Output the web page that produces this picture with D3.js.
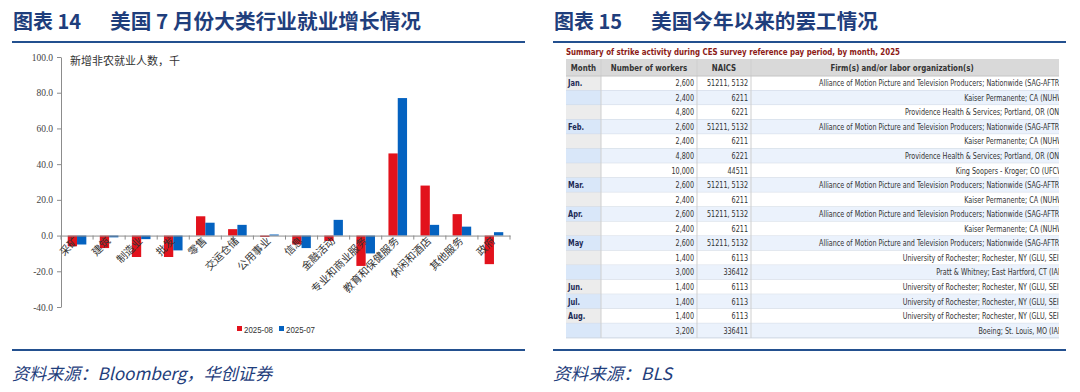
<!DOCTYPE html>
<html>
<head>
<meta charset="utf-8">
<script src="https://cdn.jsdelivr.net/npm/d3@7"></script>
<style>
  body { margin: 0; background: #fff; }
  svg { display: block; }
</style>
</head>
<body>
<div id="my_dataviz"></div>
<script>
// chart data
var categories = ["采矿", "建筑", "制造业", "批发", "零售", "交运仓储", "公用事业", "信息",
                  "金融活动", "专业和商业服务", "教育和保健服务", "休闲和酒店", "其他服务", "政府"];
var aug = [-6, -7, -12, -12, 10.8, 3.6, -0.8, -5, -3, -17, 46, 28, 12, -16];
var jul = [-5, -1, -2, -8.3, 7.2, 6, 0.6, -7, 8.8, -10, 77, 6, 5, 1.9];
var yTicks = [-40, -20, 0, 20, 40, 60, 80, 100];
var seriesNames = ["2025-08", "2025-07"];

// table data
var tableMonths = ["Jan.", "", "", "Feb.", "", "", "", "Mar.", "", "Apr.", "", "May", "", "", "Jun.", "Jul.", "Aug.", ""];
var tableWorkers = ["2,600", "2,400", "4,800", "2,600", "2,400", "4,800", "10,000", "2,600", "2,400",
                    "2,600", "2,400", "2,600", "1,400", "3,000", "1,400", "1,400", "1,400", "3,200"];
var tableNaics = ["51211, 5132", "6211", "6221", "51211, 5132", "6211", "6221", "44511", "51211, 5132", "6211",
                  "51211, 5132", "6211", "51211, 5132", "6113", "336412", "6113", "6113", "6113", "336411"];
var amptp = "Alliance of Motion Picture and Television Producers; Nationwide (SAG-AFTRA)";
var kaiser = "Kaiser Permanente; CA (NUHW)";
var prov = "Providence Health & Services; Portland, OR (ONA)";
var roch = "University of Rochester; Rochester, NY (GLU, SEIU)";
var tableFirms = [amptp, kaiser, prov, amptp, kaiser, prov, "King Soopers - Kroger; CO (UFCW)",
                  amptp, kaiser, amptp, kaiser, amptp, roch, "Pratt & Whitney; East Hartford, CT (IAM)",
                  roch, roch, roch, "Boeing; St. Louis, MO (IAM)"];
var tableHeader = ["Month", "Number of workers", "NAICS", "Firm(s) and/or labor organization(s)"];

var RED = "#e2121c", BLUE = "#0462c0", NAVY = "#1f3e7c";
var CJK = "'Noto Sans CJK SC', sans-serif";

var svg = d3.select("#my_dataviz")
    .append("svg")
    .attr("width", 1080)
    .attr("height", 392);

// squeeze text to a given width
function fitTo(node, target) {
    d3.select(node).attr("textLength", target).attr("lengthAdjust", "spacingAndGlyphs");
}
function squeeze(sel, k) {
    sel.each(function() {
        var w = this.getComputedTextLength();
        d3.select(this).attr("textLength", w * k).attr("lengthAdjust", "spacingAndGlyphs");
    });
}

// ---------- panel titles, rules, sources ----------
function panelFrame(x0, x1, num, title, titleEnd, source, sourceEnd) {
    svg.append("text").attr("x", x0 + 1).attr("y", 29)
        .style("font-family", CJK).style("font-weight", "bold").style("font-size", "20px")
        .attr("fill", NAVY).text("图表 " + num);
    var t = svg.append("text").attr("x", x0 + 98).attr("y", 29)
        .style("font-family", CJK).style("font-weight", "bold").style("font-size", "20px")
        .attr("fill", NAVY).text(title);
    fitTo(t.node(), titleEnd - x0 - 98);
    svg.append("line").attr("x1", x0).attr("x2", x1).attr("y1", 42).attr("y2", 42)
        .attr("stroke", "#23508f").attr("stroke-width", 2);
    svg.append("line").attr("x1", x0).attr("x2", x1).attr("y1", 350).attr("y2", 350)
        .attr("stroke", "#23508f").attr("stroke-width", 2);
    var s = svg.append("text").attr("x", x0).attr("y", 380)
        .style("font-family", CJK).style("font-style", "italic").style("font-size", "17px")
        .attr("fill", NAVY).text(source);
    fitTo(s.node(), sourceEnd - x0);
}
panelFrame(12, 525, "14", "美国 7 月份大类行业就业增长情况", 421, "资料来源：Bloomberg，华创证券", 272);
panelFrame(553, 1066, "15", "美国今年以来的罢工情况", 878, "资料来源：BLS", 672);

// ---------- bar chart ----------
var y = d3.scaleLinear().domain([-40, 100]).range([307, 57]);
var x = d3.scaleBand().domain(categories).range([61, 510]);
var barW = 9.3;

var yAxis = svg.append("g")
    .attr("transform", "translate(61,0)")
    .call(d3.axisLeft(y).tickValues(yTicks).tickSize(4).tickSizeOuter(0)
        .tickFormat(function(d) { return d.toFixed(1); }));
yAxis.select(".domain").attr("stroke", "#8c8c8c");
yAxis.selectAll(".tick line").attr("stroke", "#8c8c8c");
yAxis.selectAll(".tick text")
    .attr("x", -8)
    .style("font-family", "'Liberation Serif', serif").style("font-size", "9.5px").attr("fill", "#444");

svg.append("text").attr("x", 70).attr("y", 65)
    .style("font-family", CJK).style("font-size", "11px").attr("fill", "#333")
    .text("新增非农就业人数，千");

// bars
var bars = svg.append("g");
bars.selectAll(".augBar")
    .data(categories)
    .enter()
    .append("rect")
    .attr("x", function(d) { return x(d) + x.bandwidth() / 2 - barW; })
    .attr("y", function(d, i) { return y(Math.max(0, aug[i])); })
    .attr("width", barW)
    .attr("height", function(d, i) { return Math.abs(y(aug[i]) - y(0)); })
    .attr("fill", RED);
bars.selectAll(".julBar")
    .data(categories)
    .enter()
    .append("rect")
    .attr("x", function(d) { return x(d) + x.bandwidth() / 2; })
    .attr("y", function(d, i) { return y(Math.max(0, jul[i])); })
    .attr("width", barW)
    .attr("height", function(d, i) { return Math.abs(y(jul[i]) - y(0)); })
    .attr("fill", BLUE);

// x axis at zero
var xAxis = svg.append("g")
    .attr("transform", "translate(0," + y(0) + ")")
    .call(d3.axisBottom(x).tickSize(0).tickSizeOuter(0).tickFormat(""));
xAxis.select(".domain").attr("stroke", "#8c8c8c");
xAxis.selectAll(".bound")
    .data(categories.concat(["end"]))
    .enter()
    .append("line")
    .attr("x1", function(d, i) { return 61 + i * x.step(); })
    .attr("x2", function(d, i) { return 61 + i * x.step(); })
    .attr("y1", 0).attr("y2", 4)
    .attr("stroke", "#8c8c8c");

svg.append("g").selectAll("text")
    .data(categories)
    .enter()
    .append("text")
    .attr("transform", function(d) {
        return "translate(" + (x(d) + x.bandwidth() / 2 + 2) + "," + (y(0) + 6) + ")rotate(-45)";
    })
    .style("text-anchor", "end")
    .style("font-family", CJK).style("font-size", "10.5px").attr("fill", "#333")
    .text(function(d) { return d; });

// legend
var legend = svg.append("g").selectAll("g")
    .data(seriesNames)
    .enter()
    .append("g")
    .attr("transform", function(d, i) { return "translate(" + (237 + i * 42) + ",329)"; });
legend.append("rect").attr("x", 0).attr("y", -3).attr("width", 5).attr("height", 5)
    .attr("fill", function(d, i) { return i == 0 ? RED : BLUE; });
legend.append("text").attr("x", 7).attr("y", 3.5)
    .style("font-family", "'Liberation Sans', Arial, sans-serif").style("font-size", "9.5px").attr("fill", "#333")
    .text(function(d) { return d; })
    .each(function() { fitTo(this, 29); });

// ---------- strike table ----------
var cols = [566, 601, 697, 751, 1059];
var headTop = 59, headH = 17, rowH = 14.55;
var TFONT = "'DejaVu Sans', Verdana, sans-serif";
var tbl = svg.append("g");

var ttl = tbl.append("text").attr("x", 566).attr("y", 55)
    .style("font-family", TFONT).style("font-weight", "bold").style("font-size", "9px")
    .attr("fill", "#8c1a16")
    .text("Summary of strike activity during CES survey reference pay period, by month, 2025");
var kBold = 334 / ttl.node().getComputedTextLength();
fitTo(ttl.node(), 334);

tbl.append("rect").attr("x", cols[0]).attr("y", headTop).attr("width", cols[4] - cols[0]).attr("height", headH)
    .attr("fill", "#d9d9d9");
var headText = tbl.selectAll(".head")
    .data(tableHeader)
    .enter()
    .append("text")
    .attr("x", function(d, i) { return (cols[i] + cols[i + 1]) / 2 + (i == 3 ? -3 : 0); })
    .attr("y", headTop + 11.5)
    .style("text-anchor", "middle")
    .style("font-family", TFONT).style("font-weight", "bold").style("font-size", "9px")
    .attr("fill", "#333")
    .text(function(d) { return d; });
squeeze(headText, kBold);

var rows = tbl.selectAll(".row")
    .data(tableWorkers)
    .enter()
    .append("g")
    .attr("transform", function(d, i) { return "translate(0," + (headTop + headH + i * rowH) + ")"; });
rows.append("rect").attr("x", cols[0]).attr("width", cols[1] - cols[0]).attr("height", rowH)
    .attr("fill", function(d, i) { return i % 2 == 0 ? "#ececec" : "#d9e7f9"; });
rows.append("rect").attr("x", cols[1]).attr("width", cols[4] - cols[1]).attr("height", rowH)
    .attr("fill", function(d, i) { return i % 2 == 0 ? "#ffffff" : "#ebf2fc"; });
rows.append("line").attr("x1", cols[0]).attr("x2", cols[4]).attr("y1", rowH).attr("y2", rowH)
    .attr("stroke", "#cdd6e2").attr("stroke-width", 1);

var monthText = rows.append("text").attr("x", 568).attr("y", 10.3)
    .style("font-family", TFONT).style("font-weight", "bold").style("font-size", "8.5px")
    .attr("fill", "#1c2a55")
    .text(function(d, i) { return tableMonths[i]; });
squeeze(monthText, kBold);

var wText = rows.append("text").attr("x", 694).attr("y", 10.3)
    .style("text-anchor", "end")
    .style("font-family", TFONT).style("font-size", "8.5px").attr("fill", "#333")
    .text(function(d) { return d; });
var nText = rows.append("text").attr("x", 748).attr("y", 10.3)
    .style("text-anchor", "end")
    .style("font-family", TFONT).style("font-size", "8.5px").attr("fill", "#333")
    .text(function(d, i) { return tableNaics[i]; });

// the source table image is cut at its right edge, so the firm column is clipped
svg.append("clipPath").attr("id", "firmClip")
    .append("rect").attr("x", cols[3]).attr("y", 0).attr("width", cols[4] - cols[3]).attr("height", 392);
var fText = rows.append("text").attr("x", 1066).attr("y", 10.3)
    .attr("clip-path", "url(#firmClip)")
    .style("text-anchor", "end")
    .style("font-family", TFONT).style("font-size", "8.5px").attr("fill", "#333")
    .text(function(d, i) { return tableFirms[i]; });
var kReg = 247 / fText.node().getComputedTextLength();
squeeze(fText, kReg);
squeeze(wText, kReg);
squeeze(nText, kReg);

// column rules
var tableBottom = headTop + headH + tableWorkers.length * rowH;
tbl.selectAll(".vrule")
    .data(cols.slice(1, 4))
    .enter()
    .append("line")
    .attr("x1", function(d) { return d; }).attr("x2", function(d) { return d; })
    .attr("y1", headTop).attr("y2", tableBottom)
    .attr("stroke", "#cfcfcf");
tbl.append("line").attr("x1", cols[0]).attr("x2", cols[4]).attr("y1", headTop + headH).attr("y2", headTop + headH)
    .attr("stroke", "#c4c4c4");
</script>
</body>
</html>
